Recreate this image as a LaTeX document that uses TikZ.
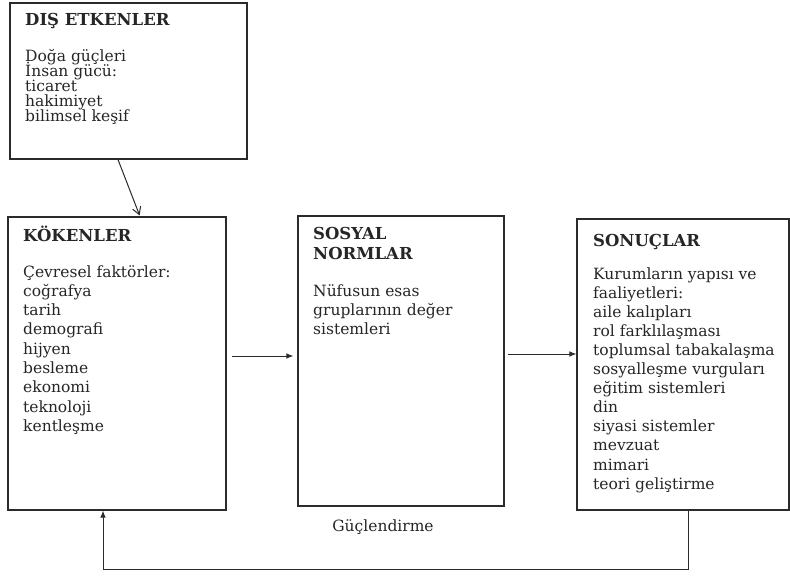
\documentclass[tikz,border=0pt]{standalone}
\usepackage{fontspec}
\setmainfont{DejaVu Serif}
\usepackage{xcolor}
\usepackage{tikz}
\usetikzlibrary{arrows.meta,calc}
\definecolor{ink}{HTML}{262626}
\definecolor{frame}{HTML}{2B2B2B}
\newcommand\tightlines{\lineskiplimit=-20pt\relax}
\tikzset{
  >={Latex[length=2.5mm,width=2mm]},
  box/.style={draw=frame,line width=1.2pt,fill=white,inner sep=0pt},
  txt/.style={anchor=base west,align=left,inner sep=0pt,text=ink,
    font=\fontsize{15.5}{19.3}\selectfont\tightlines},
  head/.style={txt,font=\bfseries\fontsize{16.5}{20}\selectfont\tightlines},
  flow/.style={->,line width=1pt,color=frame},
  openflow/.style={-{Straight Barb[length=2.6mm,width=3mm]},line width=1pt,color=frame},
}

\begin{document}
\begin{tikzpicture}[x=1pt,y=1pt]
  \path[use as bounding box,fill=white] (0,0) rectangle (790,-576);
  % boxes
  \node[box,minimum width=237,minimum height=156] (dis) at (128.5,-81) {};
  \node[box,minimum width=218,minimum height=293] (kok) at (117,-363.5) {};
  \node[box,minimum width=206,minimum height=290] (sos) at (401,-361) {};
  \node[box,minimum width=212,minimum height=291] (son) at (683,-364.5) {};
  % texts (base = last line)
  \node[head] (dis-h) at (25,-25) {DIŞ ETKENLER};
  \node[txt,font=\fontsize{15.5}{15.2}\selectfont\tightlines] (dis-t) at (25,-121.8)
    {Doğa güçleri\\İnsan gücü:\\ticaret\\hakimiyet\\bilimsel keşif};
  \node[head] (kok-h) at (23,-241) {KÖKENLER};
  \node[txt] (kok-t) at (23,-431.4)
    {Çevresel faktörler:\\coğrafya\\tarih\\demografi\\hijyen\\besleme\\ekonomi\\teknoloji\\kentleşme};
  \node[head] (sos-h) at (313,-259) {SOSYAL\\NORMLAR};
  \node[txt] (sos-t) at (313,-334.6)
    {Nüfusun esas\\gruplarının değer\\sistemleri};
  \node[head] (son-h) at (593,-246) {SONUÇLAR};
  \node[txt,font=\fontsize{15.5}{19.1}\selectfont\tightlines] (son-t) at (593,-489.1)
    {Kurumların yapısı ve\\faaliyetleri:\\aile kalıpları\\rol farklılaşması\\toplumsal tabakalaşma\\sosyalleşme vurguları\\eğitim sistemleri\\din\\siyasi sistemler\\mevzuat\\mimari\\teori geliştirme};
  \node[txt,anchor=center] (guc) at (383,-527) {Güçlendirme};
  % connectors
  \coordinate (ya) at (0,-356);
  \coordinate (yb) at (0,-354);
  \coordinate (da) at (118,0);
  \coordinate (db) at (140,0);
  \coordinate (fr) at (688,-569);
  \coordinate (fl) at (103,-569);
  \draw[openflow,shorten >=1pt] (dis.south -| da) -- (kok.north -| db);
  \draw[flow,shorten <=5pt,shorten >=4pt] (kok.east |- ya) -- (sos.west |- ya);
  \draw[flow,shorten <=3pt] (sos.east |- yb) -- (son.west |- yb);
  \draw[flow] (son.south -| fr) -- (fr) -- (fl) -- (kok.south -| fl);
\end{tikzpicture}
\end{document}
